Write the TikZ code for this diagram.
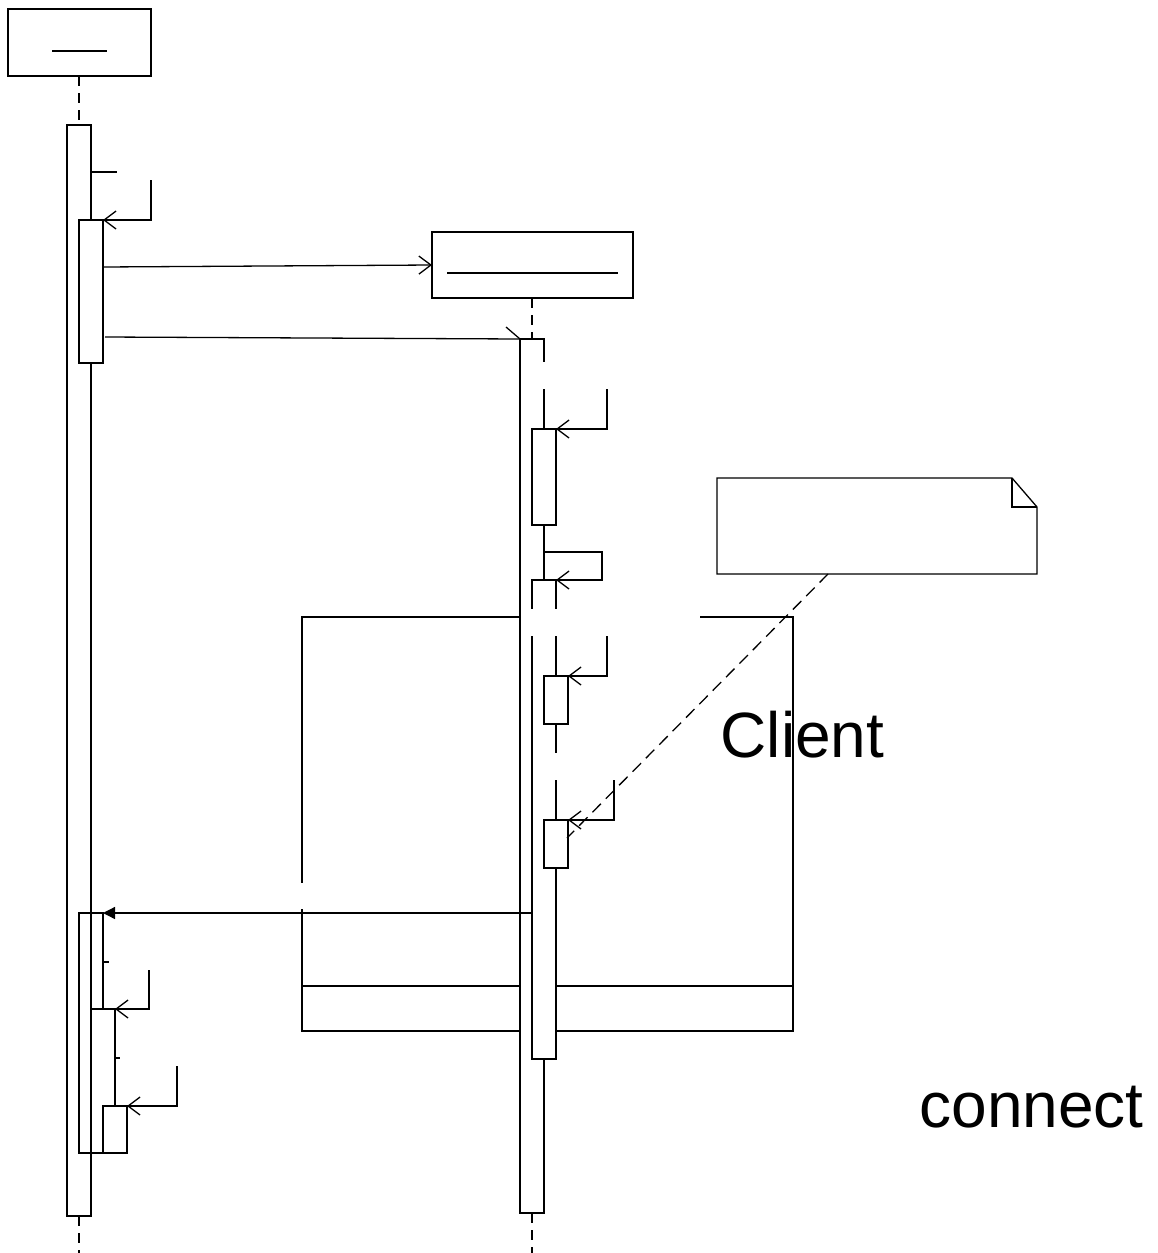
\documentclass[tikz,border=0pt]{standalone}
\usepackage{fontspec}
\setmainfont{Liberation Sans}
\usetikzlibrary{arrows.meta}
\begin{document}
\begin{tikzpicture}[x=1pt,y=-1pt, line width=1.3pt,
  bar/.style={draw=black, fill=white},
  life/.style={dash pattern=on 10pt off 7pt},
  msg/.style={-{Straight Barb[length=12pt,width=18pt]}},
  ret/.style={-{Triangle[length=12pt,width=12pt]}},
  patch/.style={fill=white, draw=none},
  notelink/.style={dash pattern=on 12pt off 7pt},
  lbl/.style={inner sep=0pt, anchor=base west, font=\fontsize{64}{70}\selectfont}]
\useasboundingbox (0,0) rectangle (1157,1253);

% ---------- left object ----------
\draw (8,9) rectangle (151,76);
\draw (52,51) -- (107,51);
\coordinate (lA) at (79,76);
\coordinate (lB) at (79,125);
\draw[life] (lA) -- (lB);
\draw[bar] (67,125) rectangle (91,1216);
\coordinate (lC) at (79,1216);
\coordinate (lD) at (79,1253);
\draw[life] (lC) -- (lD);

% stub and self call 1
\draw (91,172) -- (117,172);
\coordinate (s1a) at (151,180);
\coordinate (s1b) at (151,220);
\coordinate (s1c) at (103,220);
\draw[bar] (79,220) rectangle (103,363);
\draw[msg] (s1a) -- (s1b) -- (s1c);

% ---------- right object ----------
\draw (432,232) rectangle (633,298);
\draw (447,273) -- (618,273);
\coordinate (rA) at (532,298);
\coordinate (rB) at (532,339);
\draw[life] (rA) -- (rB);

% ---------- combined fragment ----------
\draw (302,617) rectangle (793,1031);
\draw (302,986) -- (793,986);

% ---------- right activations ----------
\draw[bar] (520,339) rectangle (544,1213);
\coordinate (rC) at (532,1213);
\coordinate (rD) at (532,1253);
\draw[life] (rC) -- (rD);
\draw[bar] (532,580) rectangle (556,1059);
\draw[bar] (532,429) rectangle (556,525);
\draw[bar] (544,676) rectangle (568,724);
\draw[bar] (544,820) rectangle (568,868);

% label patches (empty labels)
\fill[patch] (522,362) rectangle (612,389);
\fill[patch] (521.8,609) rectangle (700,636);
\fill[patch] (546,753) rectangle (620,780);
\fill[patch] (296,883) rectangle (308,909);

% right self calls
\draw[msg] (607,389) -- (607,429) -- (556,429);
\draw[msg] (544,552) -- (602,552) -- (602,580) -- (556,580);
\draw[msg] (607,636) -- (607,676) -- (568,676);
\draw[msg] (614,780) -- (614,820) -- (568,820);

% ---------- left lower activations ----------
\draw[bar] (79,913) rectangle (103,1153);
\draw[bar] (91,1009) rectangle (115,1153);
\draw[bar] (103,1106) rectangle (127,1153);
\draw (91,913) -- (91,1009);
\draw (103,962) -- (109,962);
\draw (115,1058) -- (120,1058);
\draw[msg] (149,970) -- (149,1009) -- (115,1009);
\draw[msg] (177,1066) -- (177,1106) -- (127,1106);

% ---------- messages ----------
\coordinate (m1s) at (103,267);
\coordinate (m1e) at (432,265);
\draw[msg] (m1s) -- (m1e);
\coordinate (m2s) at (105,337);
\coordinate (m2e) at (520,339);
\draw (m2s) -- (m2e);
\draw (506,327) -- (m2e);
\coordinate (rs) at (532,913);
\coordinate (re) at (103,913);
\draw[ret] (rs) -- (re);

% ---------- note ----------
\draw[fill=white] (717,478) -- (1012,478) -- (1037,507) -- (1037,574) -- (717,574) -- cycle;
\draw (1012,478) -- (1012,507) -- (1037,507);
\coordinate (nA) at (828,574);
\coordinate (nB) at (567,838);
\draw[notelink] (nA) -- (nB);

% ---------- texts ----------
\node[lbl] (client) at (720,757) {Client};
\node[lbl] (connect) at (919,1127) {connect};
\end{tikzpicture}
\end{document}
